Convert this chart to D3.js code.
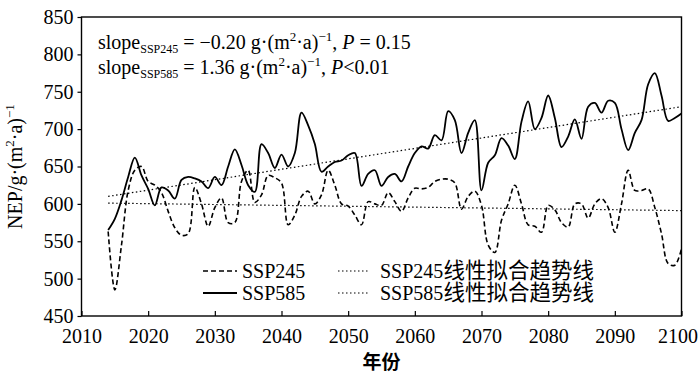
<!DOCTYPE html>
<html>
<head>
<meta charset="utf-8">
<script src="https://cdn.jsdelivr.net/npm/d3@7"></script>
<style>
  body { margin: 0; background: #fff; }
  svg text { font-family: "Times New Roman", "Liberation Serif", "DejaVu Serif", "Noto Sans CJK SC", serif; fill: #000; }
</style>
</head>
<body>
<svg width="700" height="384"></svg>
<script>
// years 2014..2100, one value per year
const years = d3.range(2014, 2101);
const ssp245 = [563,485,545,618,645,650,630,625,615,590,568,558,560,622,600,570,595,608,575,575,
  630,645,602,612,638,635,628,572,585,610,617,600,612,645,625,600,597,585,572,603,
  600,598,615,603,590,608,621,620,622,630,633,633,628,593,610,617,598,545,535,578,
  600,625,600,572,570,562,598,592,575,569,600,600,581,600,607,595,562,600,645,618,
  618,620,595,560,520,518,540];
const ssp585 = [565,580,605,636,662,638,620,598,622,618,607,632,636,634,630,621,636,625,650,673,
  652,625,616,680,668,648,666,650,668,722,705,680,643,650,656,658,665,668,624,640,
  645,624,636,640,630,650,668,677,674,692,685,724,712,668,695,712,618,655,665,688,
  678,660,710,737,700,715,745,715,676,690,713,687,730,735,722,738,735,700,672,695,
  712,760,775,745,711,715,721];
const trendYears = [2014, 2100];
const trend245 = [601, 591];
const trend585 = [610, 730];

const xTicks = d3.range(2010, 2101, 10);
const yTicks = d3.range(450, 851, 50);
const legendNames = ['SSP245', 'SSP585', 'SSP245', 'SSP585'];
const legendSuffix = ['', '', '线性拟合趋势线', '线性拟合趋势线'];

const svg = d3.select('svg');
const pL = 81.5, pR = 681.5, pT = 17, pB = 316;

const x = d3.scaleLinear().domain([2010, 2100]).range([pL, pR]);
const y = d3.scaleLinear().domain([450, 850]).range([pB, pT]);

// axes
const xAxis = svg.append('g')
  .attr('transform', `translate(0,${pB})`)
  .call(d3.axisBottom(x).tickValues(xTicks).tickFormat(d3.format('d'))
    .tickSizeInner(-5).tickSizeOuter(0).tickPadding(13));
const yAxis = svg.append('g')
  .attr('transform', `translate(${pL},0)`)
  .call(d3.axisLeft(y).tickValues(yTicks).tickSizeInner(4).tickSizeOuter(0).tickPadding(4));
[xAxis, yAxis].forEach(g => {
  g.select('.domain').remove();
  g.selectAll('line').attr('stroke', '#000').attr('stroke-width', 1.2);
  g.selectAll('text').attr('font-size', 20).attr('fill', '#000');
});
// last year label sits against the edge
xAxis.selectAll('.tick text').filter(d => d === 2100).attr('dx', -4);

svg.append('rect')
  .attr('x', pL).attr('y', pT)
  .attr('width', pR - pL).attr('height', pB - pT)
  .attr('fill', 'none').attr('stroke', '#000').attr('stroke-width', 1.4);

// lines
const line = d3.line()
  .x((d, i) => x(years[i]))
  .y(d => y(d))
  .curve(d3.curveCatmullRom);
const tline = d3.line()
  .x((d, i) => x(trendYears[i]))
  .y(d => y(d));

svg.append('path').attr('d', tline(trend245))
  .attr('fill', 'none').attr('stroke', '#000').attr('stroke-width', 1.2).attr('stroke-dasharray', '1.5,2.5');
svg.append('path').attr('d', tline(trend585))
  .attr('fill', 'none').attr('stroke', '#000').attr('stroke-width', 1.2).attr('stroke-dasharray', '1.5,2.5');
svg.append('path').attr('d', line(ssp245))
  .attr('fill', 'none').attr('stroke', '#000').attr('stroke-width', 1.6).attr('stroke-dasharray', '5,3');
svg.append('path').attr('d', line(ssp585))
  .attr('fill', 'none').attr('stroke', '#000').attr('stroke-width', 1.8);

// rich text helper: [text, kind]
function rich(sel, parts) {
  let shift = 0;
  parts.forEach(p => {
    const kind = p[1] || 'n';
    const target = kind === 'sub' ? 4 : kind === 'sup' ? -8 : 0;
    const ts = sel.append('tspan').text(p[0]).attr('dy', target - shift);
    shift = target;
    if (kind === 'sub') ts.attr('font-size', 12);
    if (kind === 'sup') ts.attr('font-size', 13);
    if (kind === 'i') ts.attr('font-style', 'italic');
  });
}

// slope notes
rich(svg.append('text').attr('x', 98).attr('y', 49).attr('font-size', 20), [
  ['slope'], ['SSP245', 'sub'], [' = −0.20 g·(m'], ['2', 'sup'], ['·a)'], ['−1', 'sup'], [', '], ['P', 'i'], [' = 0.15']
]);
rich(svg.append('text').attr('x', 98).attr('y', 74).attr('font-size', 20), [
  ['slope'], ['SSP585', 'sub'], [' = 1.36 g·(m'], ['2', 'sup'], ['·a)'], ['−1', 'sup'], [', '], ['P', 'i'], ['<0.01']
]);

// axis titles
rich(svg.append('text')
  .attr('transform', `translate(22,${(pT + pB) / 2}) rotate(-90)`)
  .attr('text-anchor', 'middle').attr('font-size', 20), [
  ['NEP/g·(m'], ['2', 'sup'], ['·a)'], ['−1', 'sup']
]);
svg.append('text').attr('x', (pL + pR) / 2).attr('y', 369)
  .attr('text-anchor', 'middle').attr('font-size', 19).attr('font-weight', 'bold')
  .text('年份');

// legend
const legend = [
  {i: 0, x: 203, y: 271, dash: '5,3', w: 1.6},
  {i: 1, x: 203, y: 293, dash: null, w: 1.8},
  {i: 2, x: 338, y: 271, dash: '1.5,2.5', w: 1.2},
  {i: 3, x: 338, y: 293, dash: '1.5,2.5', w: 1.2}
];
const lg = svg.append('g').selectAll('g').data(legend).join('g');
lg.append('line')
  .attr('x1', d => d.x).attr('x2', d => d.x + (d.i < 2 ? 34 : 30))
  .attr('y1', d => d.y).attr('y2', d => d.y)
  .attr('stroke', '#000').attr('stroke-width', d => d.w)
  .attr('stroke-dasharray', d => d.dash);
const lt = lg.append('text')
  .attr('x', d => d.x + (d.i < 2 ? 39 : 42)).attr('y', d => d.y + 7)
  .attr('font-size', 20);
lt.append('tspan').text(d => legendNames[d.i]);
lt.append('tspan').attr('font-size', 21.5).text(d => legendSuffix[d.i]);
</script>
</body>
</html>
